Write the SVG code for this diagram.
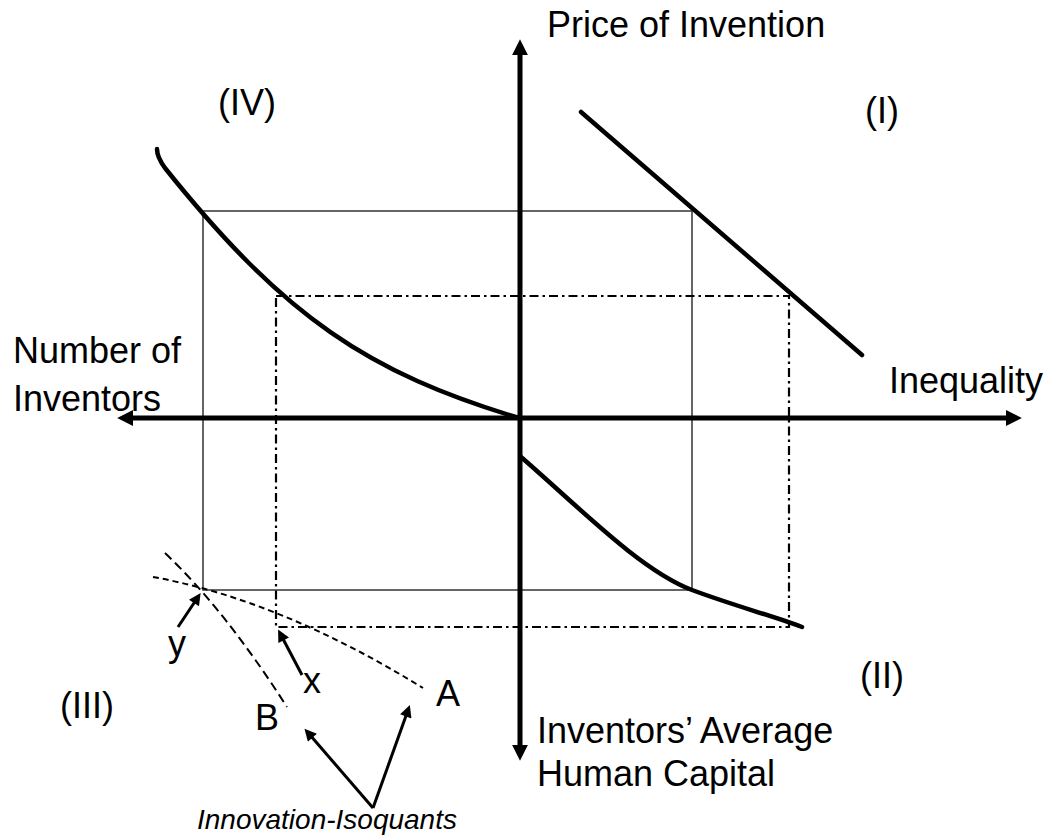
<svg xmlns="http://www.w3.org/2000/svg" width="1045" height="837" viewBox="0 0 1045 837">
<style>
text{font-family:"Liberation Sans",Arial,sans-serif;font-size:36px;fill:#000}
.it{font-style:italic;font-size:28px}
.axis{stroke:#000;stroke-width:5;fill:none}
.curve{stroke:#000;stroke-width:4.5;fill:none;stroke-linecap:round}
.thin{stroke:#333;stroke-width:1.5;fill:none}
.dd{stroke:#000;stroke-width:2.2;fill:none;stroke-dasharray:9,4,2.5,4}
.dash1{stroke:#000;stroke-width:2;fill:none;stroke-dasharray:6,4}
.dash2{stroke:#000;stroke-width:2;fill:none;stroke-dasharray:9,5}
.ptr{stroke:#000;stroke-width:3;fill:none}
</style>
<defs>
<marker id="ah" viewBox="0 0 10 10" refX="2" refY="5" markerWidth="3.2" markerHeight="3.2" orient="auto-start-reverse" markerUnits="strokeWidth"><path d="M0,0 L10,5 L0,10 z" fill="#000"/></marker>
<marker id="sh" viewBox="0 0 10 10" refX="3" refY="5" markerWidth="4.6" markerHeight="4" orient="auto" markerUnits="strokeWidth"><path d="M0,0 L10,5 L0,10 z" fill="#000"/></marker>
</defs>
<g id="guides">
<rect class="thin" x="203" y="211" width="489" height="379"/>
<rect class="dd" x="276" y="296" width="513" height="331"/>
</g>
<g id="axes">
<line class="axis" x1="520" y1="748" x2="520" y2="52" marker-start="url(#ah)" marker-end="url(#ah)"/>
<line class="axis" x1="130" y1="418" x2="1009" y2="418" marker-start="url(#ah)" marker-end="url(#ah)"/>
</g>
<g id="curves">
<path id="curve-IV" class="curve" d="M157,149 Q157,157 165,168 C285,318 369,373 519,418"/>
<path id="curve-I" class="curve" d="M581,112 L862,355"/>
<path id="curve-II" class="curve" d="M521,457 C580,508 640,570 692,590 C735,606 770,615 802,627"/>
<path id="isoquant-A" class="dash1" d="M153,577 Q280,600 423,688"/>
<path id="isoquant-B" class="dash2" d="M165,553 Q225,610 287,707"/>
</g>
<g id="connectors">
<line class="ptr" x1="178" y1="627" x2="196" y2="600" marker-end="url(#sh)"/>
<line class="ptr" x1="302" y1="675" x2="282" y2="637" marker-end="url(#sh)"/>
<line class="ptr" x1="373" y1="808" x2="310" y2="735" marker-end="url(#sh)"/>
<line class="ptr" x1="373" y1="808" x2="407" y2="713" marker-end="url(#sh)"/>
</g>
<g id="labels">
<text x="547" y="37">Price of Invention</text>
<text x="889" y="393">Inequality</text>
<text x="13" y="363">Number of</text>
<text x="13" y="411">Inventors</text>
<text x="537" y="743">Inventors’ Average</text>
<text x="537" y="786">Human Capital</text>
<text x="218" y="115">(IV)</text>
<text x="865" y="123">(I)</text>
<text x="860" y="688">(II)</text>
<text x="60" y="718">(III)</text>
<text x="168" y="656">y</text>
<text x="303" y="693">x</text>
<text x="255" y="730">B</text>
<text x="436" y="706">A</text>
<text class="it" x="197" y="829">Innovation-Isoquants</text>
</g>
</svg>
